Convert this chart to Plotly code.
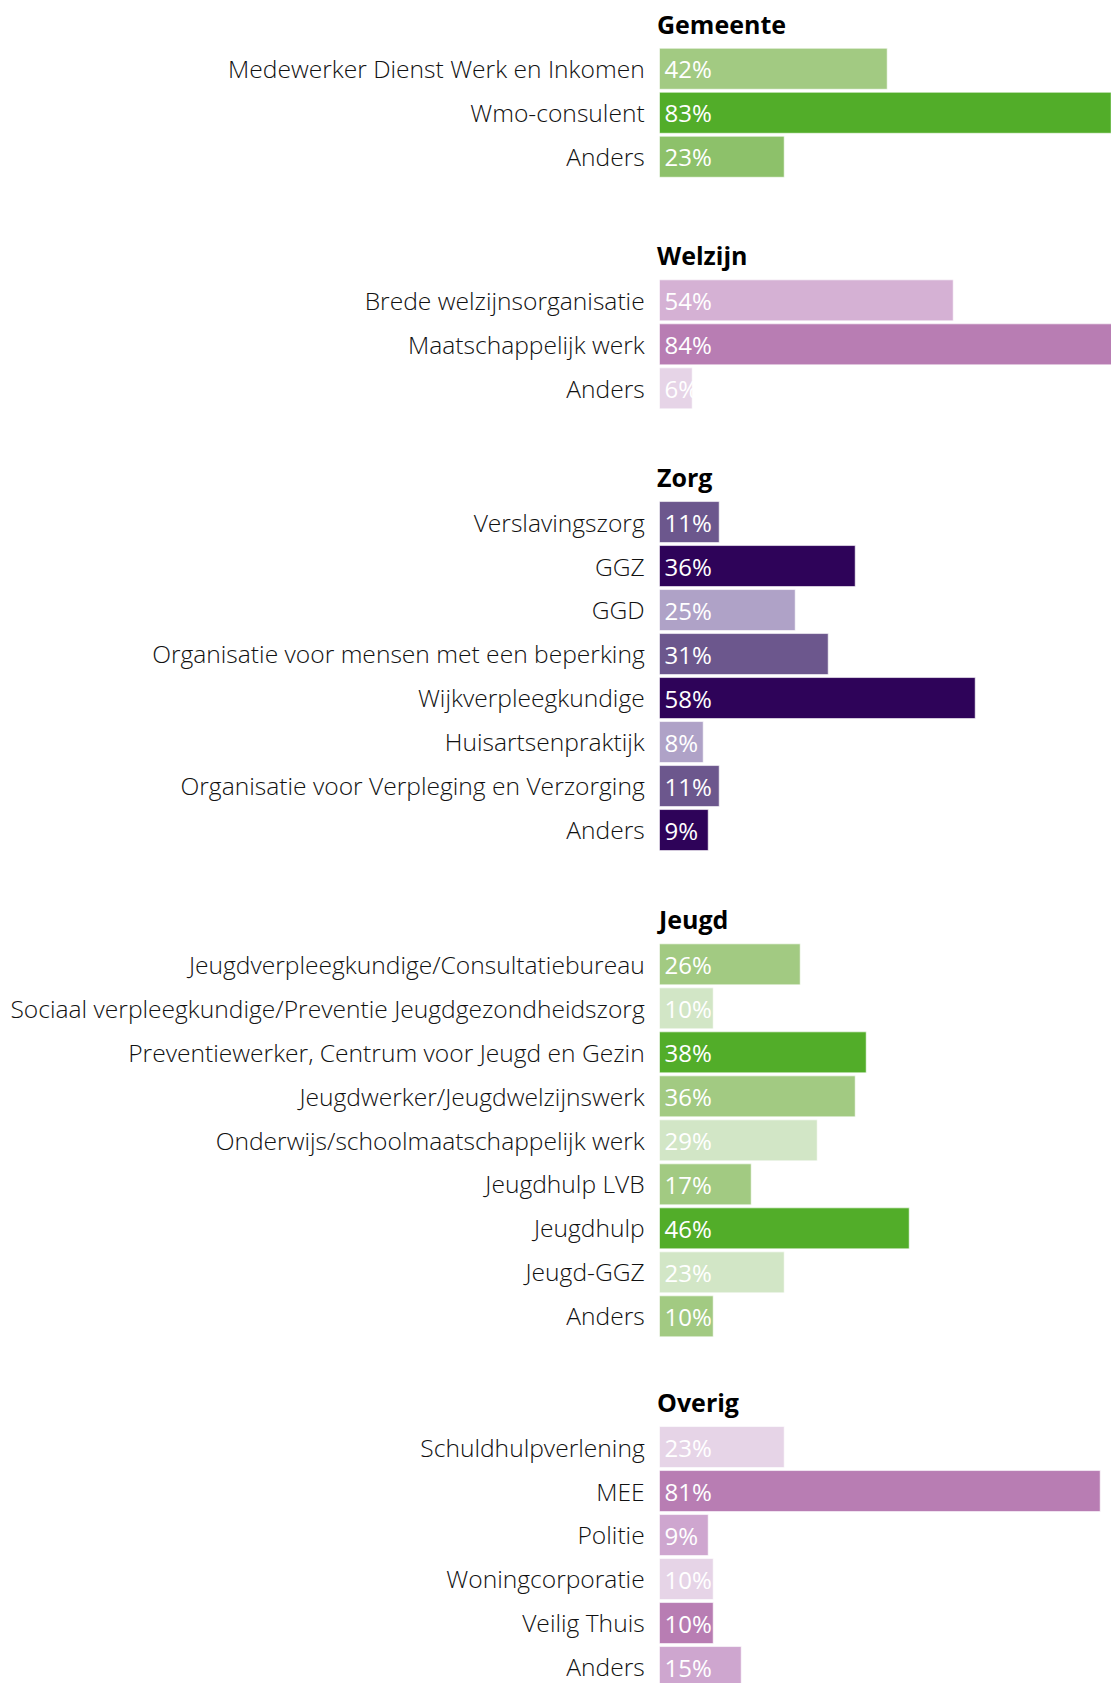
import plotly.graph_objects as go

# ---- data ----
sections = ["Gemeente", "Welzijn", "Zorg", "Jeugd", "Overig"]

gemeente_labels = ["Medewerker Dienst Werk en Inkomen", "Wmo-consulent", "Anders"]
gemeente_values = [42, 83, 23]

welzijn_labels = ["Brede welzijnsorganisatie", "Maatschappelijk werk", "Anders"]
welzijn_values = [54, 84, 6]

zorg_labels = ["Verslavingszorg", "GGZ", "GGD", "Organisatie voor mensen met een beperking",
               "Wijkverpleegkundige", "Huisartsenpraktijk",
               "Organisatie voor Verpleging en Verzorging", "Anders"]
zorg_values = [11, 36, 25, 31, 58, 8, 11, 9]

jeugd_labels = ["Jeugdverpleegkundige/Consultatiebureau",
                "Sociaal verpleegkundige/Preventie Jeugdgezondheidszorg",
                "Preventiewerker, Centrum voor Jeugd en Gezin",
                "Jeugdwerker/Jeugdwelzijnswerk", "Onderwijs/schoolmaatschappelijk werk",
                "Jeugdhulp LVB", "Jeugdhulp", "Jeugd-GGZ", "Anders"]
jeugd_values = [26, 10, 38, 36, 29, 17, 46, 23, 10]

overig_labels = ["Schuldhulpverlening", "MEE", "Politie", "Woningcorporatie", "Veilig Thuis", "Anders"]
overig_values = [23, 81, 9, 10, 10, 15]

# ---- styles ----
G_DARK, G_MID, G_MID2, G_LIGHT = "#52ad29", "#a2ca82", "#8dc16a", "#d2e6c6"
P_DARK, P_MID, P_LIGHT = "#2e0359", "#6c578d", "#afa2c7"
M_DARK, M_MID, M_MID2, M_LIGHT = "#b87db3", "#d5b1d4", "#cea6cf", "#e6d4e7"

colors = [
    [G_MID, G_DARK, G_MID2],
    [M_MID, M_DARK, M_LIGHT],
    [P_MID, P_DARK, P_LIGHT, P_MID, P_DARK, P_LIGHT, P_MID, P_DARK],
    [G_MID, G_LIGHT, G_DARK, G_MID, G_LIGHT, G_MID, G_DARK, G_LIGHT, G_MID],
    [M_LIGHT, M_DARK, M_MID2, M_LIGHT, M_DARK, M_MID2],
]

labels = [gemeente_labels, welzijn_labels, zorg_labels, jeugd_labels, overig_labels]
values = [gemeente_values, welzijn_values, zorg_values, jeugd_values, overig_values]

W, H = 1111, 1683
PITCH = 43.9
BAR_H = 41.0
X0 = 659.7
PX_PER_PCT = 5.44
first_centers = [69.7, 301.3, 523.0, 965.3, 1448.0]

FONT = "Open Sans"

fig = go.Figure()
layout_axes = {}
annotations = []

for i, (name, labs, vals, cols) in enumerate(zip(sections, labels, values, colors)):
    n = len(labs)
    top = first_centers[i] - PITCH / 2
    bottom = top + n * PITCH
    overflow = 0.0
    if bottom > H:
        overflow = (bottom - H) / PITCH
        bottom = H
    sfx = "" if i == 0 else str(i + 1)
    fig.add_trace(go.Bar(
        x=vals, y=labs, orientation="h",
        marker=dict(color=cols, line=dict(color="rgba(255,255,255,0.6)", width=1)),
        width=BAR_H / PITCH,
        text=[f"\u200a{v}%" for v in vals],
        textposition="inside", insidetextanchor="start", constraintext="none",
        textangle=0,
        textfont=dict(family=FONT, size=24, color="white", weight=400),
        xaxis="x" + sfx, yaxis="y" + sfx, showlegend=False, hoverinfo="skip",
    ))
    layout_axes["xaxis" + sfx] = dict(
        domain=[X0 / W, 1], range=[0, (W - X0) / PX_PER_PCT],
        showgrid=False, zeroline=False, showticklabels=False, showline=False,
        anchor="y" + sfx, fixedrange=True,
    )
    layout_axes["yaxis" + sfx] = dict(
        domain=[1 - bottom / H, 1 - top / H],
        type="category", categoryorder="array", categoryarray=labs,
        range=[n - 0.5 - overflow, -0.5],
        showgrid=False, zeroline=False, showline=False, ticks="",
        ticklabelstandoff=14,
        tickfont=dict(family=FONT, size=24.6, color="#111111", weight=300),
        anchor="x" + sfx, fixedrange=True,
    )
    annotations.append(dict(
        text=f"<b>{name}</b>", xref="paper", yref="paper",
        x=654.5 / W, y=1 - (top - 24) / H, xanchor="left", yanchor="middle",
        showarrow=False, font=dict(family=FONT, size=25, color="#000000"),
    ))

fig.update_layout(
    width=W, height=H,
    margin=dict(l=0, r=0, t=0, b=0),
    paper_bgcolor="white", plot_bgcolor="white",
    bargap=0, annotations=annotations,
    **layout_axes,
)

fig.write_html("out.html", config={"displayModeBar": False},
               post_script="document.body.style.margin='0';document.body.style.padding='0';")
